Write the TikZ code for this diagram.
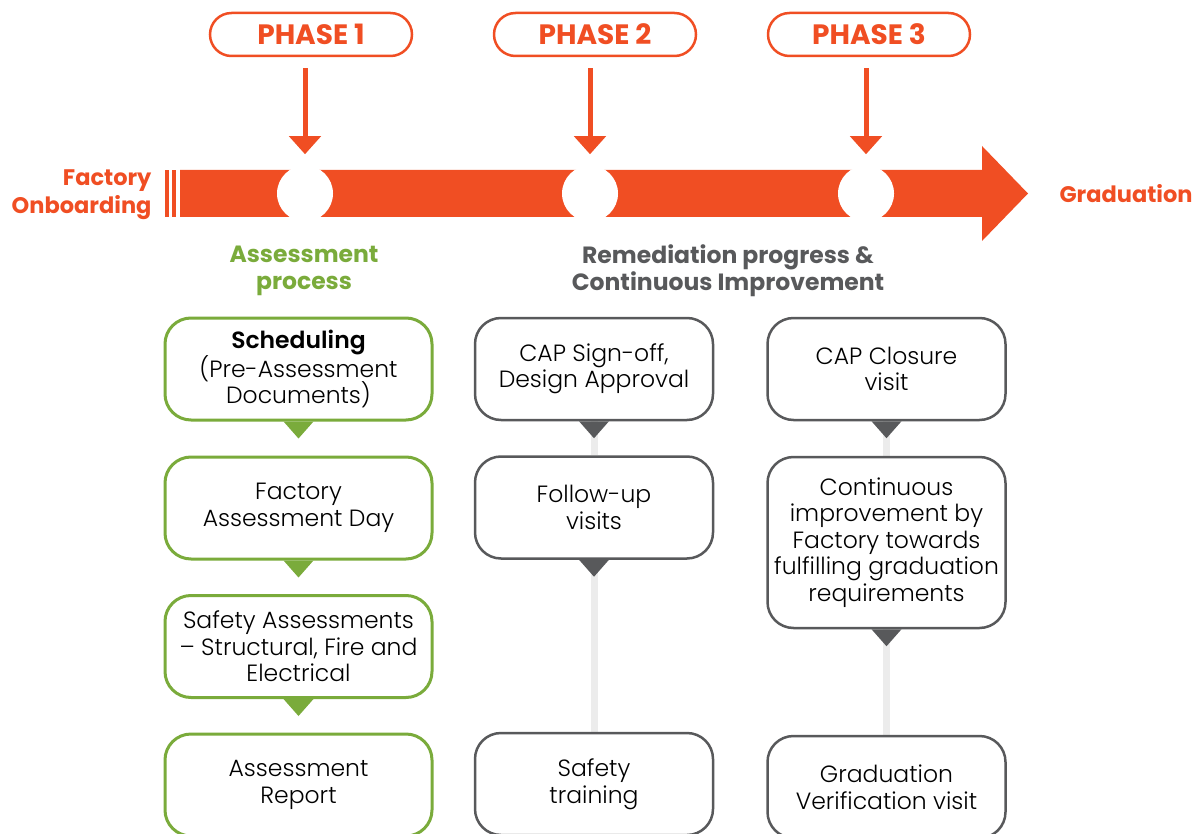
\documentclass[tikz,border=0pt]{standalone}
\usepackage{fontspec}
\setmainfont{Poppins}
\IfFontExistsTF{Poppins Light}
    {\newfontfamily\boxfont{Poppins Light}[BoldFont=Poppins SemiBold, Ligatures=TeX]}
    {\newfontfamily\boxfont{Poppins}[Ligatures=TeX]}
\usepackage{tikz}
\usetikzlibrary{arrows.meta, backgrounds, positioning, calc}

\definecolor{Orange}{RGB}{240,78,35}
\definecolor{Leaf}{RGB}{122,171,59}
\definecolor{Slate}{RGB}{88,89,91}
\definecolor{Mist}{RGB}{236,236,236}

\tikzset{
    phasepill/.style={draw=Orange, line width=2.5pt, rounded corners=21.5pt,
        minimum width=202pt, minimum height=43pt, inner sep=0pt, text=Orange,
        font=\fontsize{28}{32}\selectfont\bfseries},
    phasearrow/.style={Orange, line width=5pt, -{Triangle[width=31pt,length=18pt]}},
    stagebox/.style={draw, fill=white, rounded corners=26pt, inner sep=0pt,
        align=center, text=black, font=\boxfont\fontsize{23.5}{26.5}\selectfont},
    greenbox/.style={stagebox, draw=Leaf, line width=3pt,
        minimum width=267pt, minimum height=102pt},
    greybox/.style={stagebox, draw=Slate, line width=2.5pt,
        minimum width=238pt, minimum height=102pt},
    grouplabel/.style={align=center, font=\fontsize{23.5}{27}\selectfont\bfseries},
    endlabel/.style={text=Orange, font=\fontsize{22.5}{28}\selectfont\bfseries},
    linkline/.style={Mist, line width=7pt}
}

\begin{document}
\begin{tikzpicture}[x=1pt, y=-1pt]

    \useasboundingbox (0,0) rectangle (1201,834);

    % milestones on the timeline
    \coordinate (m1) at (305,193.5);
    \coordinate (m2) at (590,193.5);
    \coordinate (m3) at (866,193.5);

    % timeline bar with arrow head
    \fill[Orange] (180,170) -- (982,170) -- (982,146) -- (1028,193.5)
        -- (982,241) -- (982,217) -- (180,217) -- cycle;
    \fill[Orange] (165,170) rectangle (168.5,217);
    \fill[Orange] (171.5,170) rectangle (176,217);
    \foreach \m in {m1,m2,m3}
        \fill[white] (\m) circle (28);

    \node[endlabel, anchor=east, align=right] (start) at (155,194.5) {Factory\\Onboarding};
    \node[endlabel, anchor=west] (finish) at (1056,193.5) {Graduation};

    % phases
    \node[phasepill] (p1) at (311,34.5) {PHASE 1};
    \node[phasepill] (p2) at (595,34.5) {PHASE 2};
    \node[phasepill] (p3) at (869,34.5) {PHASE 3};

    \draw[phasearrow] (p1.south -| m1) ++(0,11) -- ++(0,86);
    \draw[phasearrow] (p2.south -| m2) ++(0,11) -- ++(0,86);
    \draw[phasearrow] (p3.south -| m3) ++(0,11) -- ++(0,86);

    % group headings
    \node[grouplabel, text=Leaf] (assess) at (304,271) {Assessment\\process};
    \node[grouplabel, text=Slate] (remedy) at (728,271) {Remediation progress \&\\Continuous Improvement};

    % assessment column
    \node[greenbox] (a1) at (298.5,369) {\textbf{Scheduling}\\(Pre-Assessment\\Documents)};
    \node[greenbox] (a2) at (298.5,508) {Factory\\Assessment Day};
    \node[greenbox] (a3) at (298.5,646.5) {Safety Assessments\\– Structural, Fire and\\Electrical};
    \node[greenbox] (a4) at (298.5,785) {Assessment\\Report};

    % remediation column
    \node[greybox] (r1) at (594,369) {CAP Sign-off,\\Design Approval};
    \node[greybox] (r2) at (594,507.5) {Follow-up\\visits};
    \node[greybox] (r3) at (594,784) {Safety\\training};

    % improvement column
    \node[greybox] (c1) at (886.5,369) {CAP Closure\\visit};
    \node[greybox, minimum height=171pt] (c2) at (886.5,542.5) {Continuous\\improvement by\\Factory towards\\fulfilling graduation\\requirements};
    \node[greybox] (c3) at (886.5,787) {Graduation\\Verification visit};

    % links behind the boxes
    \begin{scope}[on background layer]
        \draw[linkline] (r1.south) -- (r2.north);
        \draw[linkline] (r2.south) -- (r3.north);
        \draw[linkline] (c1.south) -- (c2.north);
        \draw[linkline] (c2.south) -- (c3.north);
    \end{scope}

    % pointers under the boxes
    \foreach \b in {a1,a2,a3}
        \fill[Leaf] ([xshift=-15pt]\b.south) -- ([xshift=15pt]\b.south)
            -- ([yshift=-17pt]\b.south) -- cycle;
    \foreach \b in {r1,r2,c1,c2}
        \fill[Slate] ([xshift=-15pt]\b.south) -- ([xshift=15pt]\b.south)
            -- ([yshift=-17pt]\b.south) -- cycle;

\end{tikzpicture}
\end{document}
